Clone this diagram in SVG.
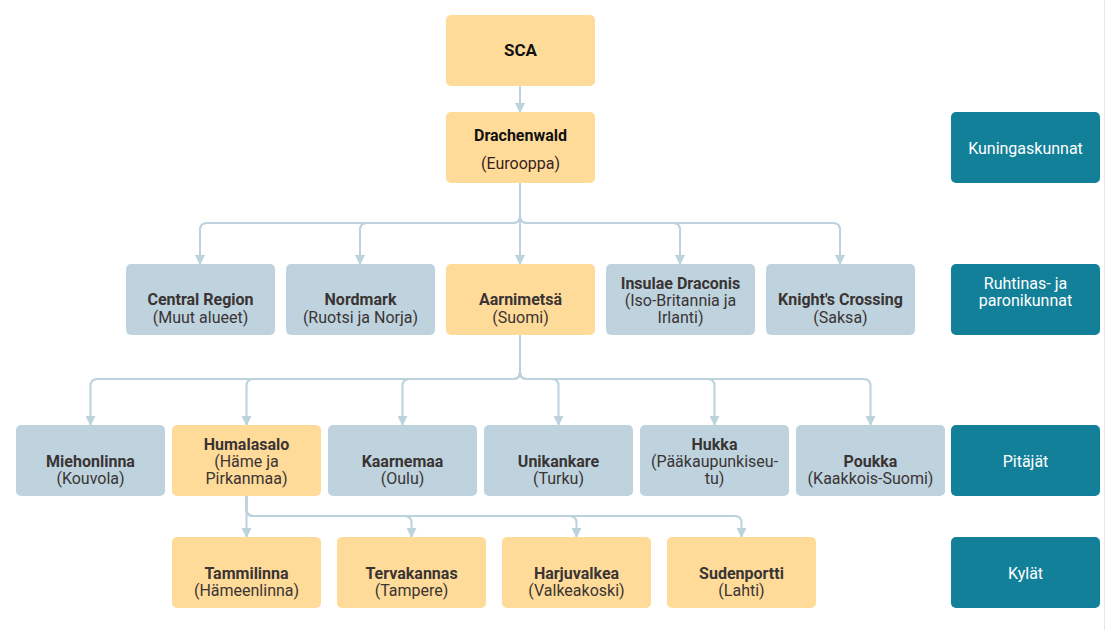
<svg xmlns="http://www.w3.org/2000/svg" width="1105" height="630" viewBox="0 0 1105 630">
<defs>
<marker id="arr" viewBox="0 0 10 10" refX="9" refY="5" markerWidth="10" markerHeight="10" markerUnits="userSpaceOnUse" orient="auto">
<path d="M0,0 L10,5 L0,10 z" fill="#bcd2dd"/>
</marker>
<style>
.y{fill:#ffdb99}
.b{fill:#bed3de}
.t{fill:#13809a}
text{font-family:Roboto,"Liberation Sans",sans-serif;font-size:16px;text-anchor:middle}
.h{font-weight:bold;fill:#3a3434}
.s{fill:#3a3434}
.k{font-weight:bold;fill:#111}
.w{fill:#fff}
.c{fill:none;stroke:#bcd2dd;stroke-width:2;marker-end:url(#arr)}
</style>
</defs>
<rect width="1105" height="630" fill="#fff"/>
<line x1="1104.5" y1="0" x2="1104.5" y2="630" stroke="#e6e6e6" stroke-width="1"/>
<g id="connectors">
<path class="c" d="M520,86 V112"/>
<path class="c" d="M520,183 V264"/>
<path class="c" d="M520,183 V216 Q520,223 513,223 H207 Q200,223 200,230 V264"/>
<path class="c" d="M520,183 V216 Q520,223 513,223 H367 Q360,223 360,230 V264"/>
<path class="c" d="M520,183 V216 Q520,223 527,223 H673 Q680,223 680,230 V264"/>
<path class="c" d="M520,183 V216 Q520,223 527,223 H833 Q840,223 840,230 V264"/>
<path class="c" d="M520,335 V372 Q520,379 513,379 H97.5 Q90.5,379 90.5,386 V425"/>
<path class="c" d="M520,335 V372 Q520,379 513,379 H253.5 Q246.5,379 246.5,386 V425"/>
<path class="c" d="M520,335 V372 Q520,379 513,379 H409.5 Q402.5,379 402.5,386 V425"/>
<path class="c" d="M520,335 V372 Q520,379 527,379 H551.5 Q558.5,379 558.5,386 V425"/>
<path class="c" d="M520,335 V372 Q520,379 527,379 H707.5 Q714.5,379 714.5,386 V425"/>
<path class="c" d="M520,335 V372 Q520,379 527,379 H863.5 Q870.5,379 870.5,386 V425"/>
<path class="c" d="M246.5,496 V537"/>
<path class="c" d="M246.5,496 V509 Q246.5,516 253.5,516 H404.5 Q411.5,516 411.5,523 V537"/>
<path class="c" d="M246.5,496 V509 Q246.5,516 253.5,516 H569.5 Q576.5,516 576.5,523 V537"/>
<path class="c" d="M246.5,496 V509 Q246.5,516 253.5,516 H734.5 Q741.5,516 741.5,523 V537"/>
</g>
<g id="sca"><rect class="y" x="446" y="15" width="149" height="71" rx="5"/><text class="k" x="520.5" y="56" style="font-size:17px">SCA</text></g>
<g id="drachenwald"><rect class="y" x="446" y="112" width="149" height="71" rx="5"/><text class="k" x="520.5" y="141">Drachenwald</text><text x="520.5" y="169" fill="#3a1e1e">(Eurooppa)</text></g>
<g id="central-region"><rect class="b" x="126" y="264" width="149" height="71" rx="5"/><text class="h" x="200.5" y="305">Central Region</text><text class="s" x="200.5" y="323">(Muut alueet)</text></g>
<g id="nordmark"><rect class="b" x="286" y="264" width="149" height="71" rx="5"/><text class="h" x="360.5" y="305">Nordmark</text><text class="s" x="360.5" y="323">(Ruotsi ja Norja)</text></g>
<g id="aarnimetsa"><rect class="y" x="446" y="264" width="149" height="71" rx="5"/><text class="h" x="520.5" y="305">Aarnimetsä</text><text class="s" x="520.5" y="323">(Suomi)</text></g>
<g id="insulae-draconis"><rect class="b" x="606" y="264" width="149" height="71" rx="5"/><text class="h" x="680.5" y="289">Insulae Draconis</text><text class="s" x="680.5" y="306">(Iso-Britannia ja</text><text class="s" x="680.5" y="323">Irlanti)</text></g>
<g id="knights-crossing"><rect class="b" x="766" y="264" width="149" height="71" rx="5"/><text class="h" x="840.5" y="305">Knight's Crossing</text><text class="s" x="840.5" y="323">(Saksa)</text></g>
<g id="miehonlinna"><rect class="b" x="16" y="425" width="149" height="71" rx="5"/><text class="h" x="90.5" y="467">Miehonlinna</text><text class="s" x="90.5" y="484">(Kouvola)</text></g>
<g id="humalasalo"><rect class="y" x="172" y="425" width="149" height="71" rx="5"/><text class="h" x="246.5" y="450">Humalasalo</text><text class="s" x="246.5" y="467">(Häme ja</text><text class="s" x="246.5" y="484">Pirkanmaa)</text></g>
<g id="kaarnemaa"><rect class="b" x="328" y="425" width="149" height="71" rx="5"/><text class="h" x="402.5" y="467">Kaarnemaa</text><text class="s" x="402.5" y="484">(Oulu)</text></g>
<g id="unikankare"><rect class="b" x="484" y="425" width="149" height="71" rx="5"/><text class="h" x="558.5" y="467">Unikankare</text><text class="s" x="558.5" y="484">(Turku)</text></g>
<g id="hukka"><rect class="b" x="640" y="425" width="149" height="71" rx="5"/><text class="h" x="714.5" y="450">Hukka</text><text class="s" x="714.5" y="467">(Pääkaupunkiseu-</text><text class="s" x="714.5" y="484">tu)</text></g>
<g id="poukka"><rect class="b" x="796" y="425" width="149" height="71" rx="5"/><text class="h" x="870.5" y="467">Poukka</text><text class="s" x="870.5" y="484">(Kaakkois-Suomi)</text></g>
<g id="tammilinna"><rect class="y" x="172" y="537" width="149" height="71" rx="5"/><text class="h" x="246.5" y="579">Tammilinna</text><text class="s" x="246.5" y="596">(Hämeenlinna)</text></g>
<g id="tervakannas"><rect class="y" x="337" y="537" width="149" height="71" rx="5"/><text class="h" x="411.5" y="579">Tervakannas</text><text class="s" x="411.5" y="596">(Tampere)</text></g>
<g id="harjuvalkea"><rect class="y" x="502" y="537" width="149" height="71" rx="5"/><text class="h" x="576.5" y="579">Harjuvalkea</text><text class="s" x="576.5" y="596">(Valkeakoski)</text></g>
<g id="sudenportti"><rect class="y" x="667" y="537" width="149" height="71" rx="5"/><text class="h" x="741.5" y="579">Sudenportti</text><text class="s" x="741.5" y="596">(Lahti)</text></g>
<g id="kuningaskunnat"><rect class="t" x="951" y="112" width="149" height="71" rx="5"/><text class="w" x="1025.5" y="154">Kuningaskunnat</text></g>
<g id="ruhtinaskunnat"><rect class="t" x="951" y="264" width="149" height="71" rx="5"/><text class="w" x="1025.5" y="289">Ruhtinas- ja</text><text class="w" x="1025.5" y="306">paronikunnat</text></g>
<g id="pitajat"><rect class="t" x="951" y="425" width="149" height="71" rx="5"/><text class="w" x="1025.5" y="467">Pitäjät</text></g>
<g id="kylat"><rect class="t" x="951" y="537" width="149" height="71" rx="5"/><text class="w" x="1025.5" y="579">Kylät</text></g>
</svg>
